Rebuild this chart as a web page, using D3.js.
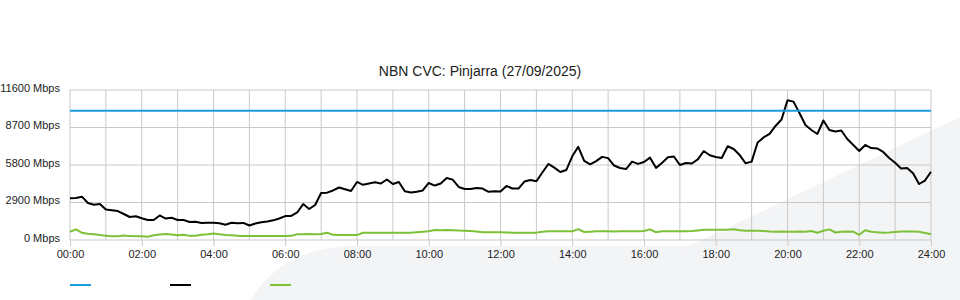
<!DOCTYPE html>
<html>
<head>
<meta charset="utf-8">
<script src="https://cdn.jsdelivr.net/npm/d3@7"></script>
<style>
  body { margin: 0; background: #fff; }
  svg { display: block; font-family: "Liberation Sans", Arial, sans-serif; }
</style>
</head>
<body>
<svg id="chart" width="960" height="300"></svg>
<script>
// Chart title and axis ticks
var chartTitle = "NBN CVC: Pinjarra (27/09/2025)";
var yTicks = [0, 2900, 5800, 8700, 11600];
var xTickLabels = ["00:00", "02:00", "04:00", "06:00", "08:00", "10:00", "12:00",
  "14:00", "16:00", "18:00", "20:00", "22:00", "24:00"];

// Samples every 10 minutes, 00:00 to 24:00 (minutes since midnight)
var sampleMinutes = d3.range(0, 1441, 10);

// CVC capacity (Mbps), flat all day
var capacity = [10000, 10000];

// Download traffic (Mbps)
var download = [
  3225, 3250, 3350, 2860, 2730, 2780, 2360, 2300, 2240, 2010,
  1780, 1840, 1680, 1550, 1550, 1900, 1660, 1720, 1550, 1550,
  1390, 1410, 1320, 1330, 1340, 1300, 1180, 1330, 1300, 1320,
  1120, 1280, 1370, 1430, 1520, 1660, 1850, 1860, 2130, 2780,
  2400, 2710, 3640, 3660, 3830, 4060, 3920, 3790, 4490, 4270,
  4370, 4460, 4370, 4680, 4330, 4490, 3770, 3670, 3730, 3830,
  4410, 4210, 4370, 4790, 4670, 4100, 3940, 3940, 4020, 3980,
  3730, 3770, 3750, 4180, 3980, 3980, 4520, 4640, 4540, 5220,
  5880, 5600, 5260, 5410, 6470, 7210, 6120, 5850, 6100, 6430,
  6330, 5760, 5570, 5490, 6060, 5890, 6030, 6370, 5580, 5950,
  6400, 6460, 5800, 5950, 5920, 6240, 6880, 6550, 6420, 6340,
  7250, 7040, 6570, 5930, 6060, 7540, 7930, 8200, 8820, 9320,
  10800, 10700, 9820, 8890, 8510, 8200, 9240, 8510, 8390, 8470,
  7810, 7350, 6880, 7350, 7110, 7080, 6810, 6340, 5980, 5530,
  5570, 5160, 4330, 4600, 5280
];

// Upload traffic (Mbps)
var upload = [
  640, 820, 560, 480, 445, 380, 330, 290, 290, 350,
  300, 290, 290, 255, 360, 420, 460, 420, 370, 410,
  320, 330, 410, 440, 510, 450, 390, 360, 330, 310,
  310, 310, 300, 310, 310, 300, 310, 320, 440, 450,
  460, 450, 470, 560, 400, 390, 380, 390, 380, 560,
  570, 560, 570, 570, 560, 570, 565, 570, 600, 640,
  680, 770, 760, 770, 760, 730, 720, 700, 650, 600,
  590, 600, 590, 580, 565, 570, 560, 565, 570, 640,
  670, 680, 670, 680, 670, 840, 620, 640, 670, 680,
  670, 660, 670, 680, 670, 680, 700, 820, 600, 670,
  680, 670, 680, 670, 690, 740, 790, 800, 790, 800,
  790, 830, 760, 720, 710, 720, 700, 650, 640, 650,
  640, 630, 650, 640, 700, 560, 720, 820, 580, 640,
  660, 640, 400, 760, 640, 590, 570, 575, 620, 650,
  660, 650, 640, 540, 450
];

var series = [
  { name: "", color: "#1a9ddb", values: capacity, minutes: [0, 1440] },
  { name: "", color: "#000000", values: download, minutes: sampleMinutes },
  { name: "", color: "#7cc136", values: upload, minutes: sampleMinutes }
];

var svg = d3.select("#chart");
var margin = { top: 90, right: 29, bottom: 60, left: 70 };
var W = 960, H = 300;

var x = d3.scaleLinear().domain([0, 1440]).range([margin.left, W - margin.right]);
var y = d3.scaleLinear().domain([0, 11600]).range([H - margin.bottom, margin.top]);

// faint watermark in the lower right
svg.append("path")
  .attr("d", "M250,300 C275,262 305,250 345,246 L960,246 L960,300 Z")
  .attr("fill", "#f3f4f6");
svg.append("path")
  .attr("d", "M655,262 L960,117 L960,300 L655,300 Z")
  .attr("fill", "#f3f4f6");

var gridColor = "#c9c9c9";

// vertical grid, one per hour
svg.append("g")
  .selectAll("line")
  .data(d3.range(0, 1441, 60))
  .join("line")
  .attr("x1", (d) => x(d)).attr("x2", (d) => x(d))
  .attr("y1", y(11600)).attr("y2", y(0))
  .attr("stroke", gridColor);

// horizontal grid
svg.append("g")
  .selectAll("line")
  .data(yTicks)
  .join("line")
  .attr("x1", x(0)).attr("x2", x(1440))
  .attr("y1", (d) => y(d)).attr("y2", (d) => y(d))
  .attr("stroke", gridColor);

// x axis
var xAxis = d3.axisBottom(x)
  .tickValues(d3.range(0, 1441, 120))
  .tickFormat((d, i) => xTickLabels[i])
  .tickSize(6)
  .tickPadding(4);
var gx = svg.append("g")
  .attr("transform", `translate(0,${y(0)})`)
  .call(xAxis);
gx.select(".domain").remove();
gx.selectAll(".tick line").attr("stroke", gridColor);
gx.selectAll("text")
  .attr("fill", "#222")
  .style("font-size", "11px")
  .style("font-family", "Liberation Sans, Arial, sans-serif");

// y labels
svg.append("g")
  .selectAll("text")
  .data(yTicks)
  .join("text")
  .attr("x", 60)
  .attr("y", (d) => y(d) - 2)
  .attr("dy", "0.35em")
  .attr("text-anchor", "end")
  .attr("fill", "#222")
  .style("font-size", "11px")
  .text((d) => `${d} Mbps`);

// title
svg.append("text")
  .attr("x", 480)
  .attr("y", 76)
  .attr("text-anchor", "middle")
  .attr("fill", "#222")
  .style("font-size", "14px")
  .text(chartTitle);

// series lines
var line = d3.line()
  .x((d) => x(d[0]))
  .y((d) => y(d[1]));

series.slice().reverse().forEach((s) => {
  var pts = s.values.map((v, i) => [s.minutes[i], v]);
  svg.append("path")
    .datum(pts)
    .attr("d", line)
    .attr("fill", "none")
    .attr("stroke", s.color)
    .attr("stroke-width", 2)
    .attr("stroke-linejoin", "round");
});

// legend (series carry no names)
var legend = svg.append("g")
  .selectAll("g")
  .data(series)
  .join("g")
  .attr("transform", (d, i) => `translate(${70 + i * 100},285)`);
legend.append("line")
  .attr("x1", 0).attr("x2", 21)
  .attr("stroke", (d) => d.color)
  .attr("stroke-width", 2);
legend.append("text")
  .attr("x", 26).attr("dy", "0.35em")
  .style("font-size", "11px")
  .text((d) => d.name);
</script>
</body>
</html>
